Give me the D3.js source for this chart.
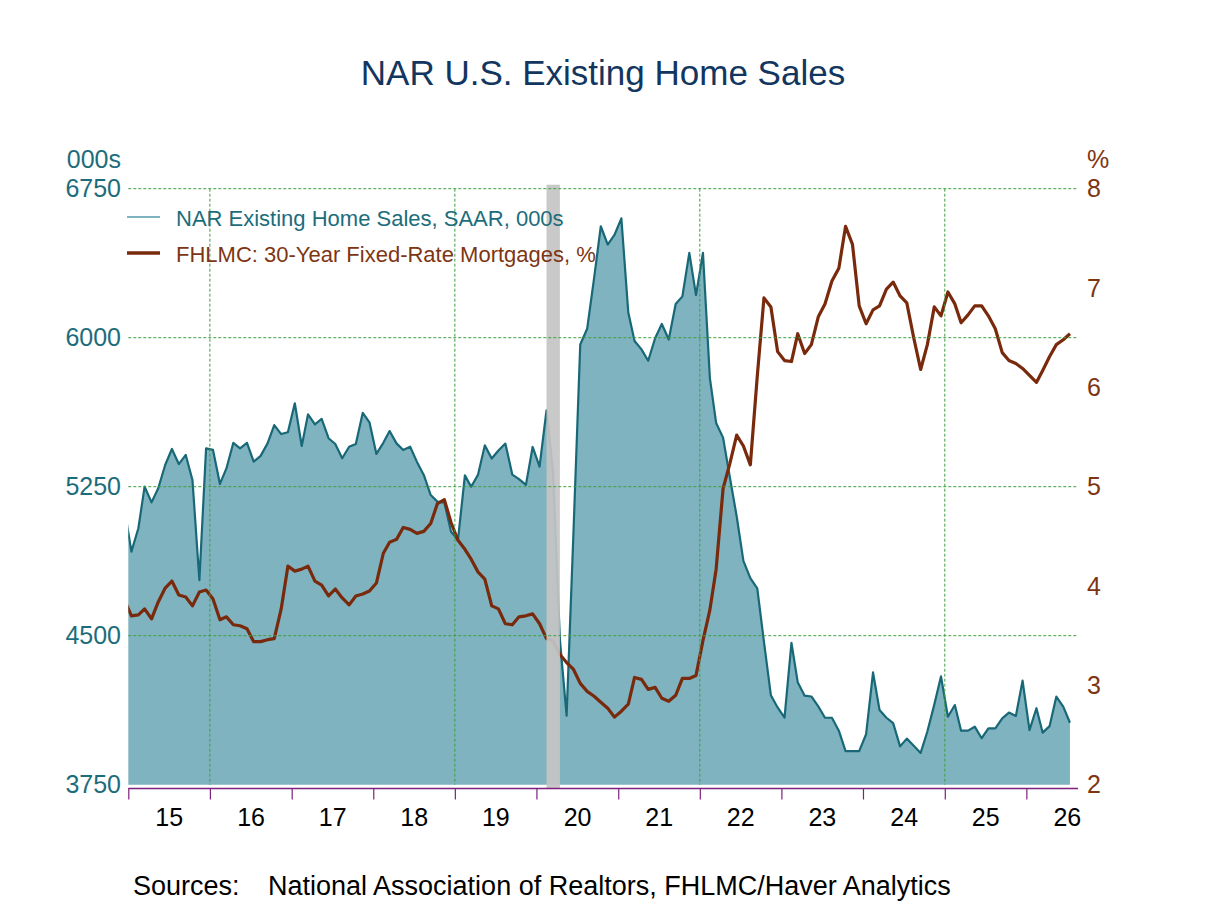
<!DOCTYPE html>
<html>
<head>
<meta charset="utf-8">
<script src="https://cdn.jsdelivr.net/npm/d3@7"></script>
<style>
  body { margin: 0; background: #fff; }
  svg { display: block; font-family: Arial, "Liberation Sans", sans-serif; }
</style>
</head>
<body>
<div id="chart"></div>
<script>
// NAR existing home sales vs 30-year mortgage rate, monthly, Dec 2014 .. Jul 2026

var firstMonth = '2014-12';

// NAR Existing Home Sales, SAAR, 000s
var sales = [
    5140,
    4923, 5041, 5250, 5171, 5242, 5359, 5440, 5364, 5410, 5284, 4780, 5443,
    5435, 5264, 5342, 5471, 5443, 5471, 5376, 5405, 5468, 5560, 5515, 5524,
    5670, 5455, 5614, 5564, 5591, 5494, 5465, 5393, 5451, 5465, 5622, 5574,
    5415, 5471, 5530, 5468, 5435, 5451, 5376, 5309, 5208, 5175, 5170, 5023,
    4982, 5307, 5250, 5311, 5458, 5392, 5432, 5467, 5311, 5288, 5259, 5450,
    5351, 5634, 5330, 4480, 4097, 5030, 5966, 6045, 6300, 6561, 6469, 6517,
    6601, 6127, 5983, 5941, 5884, 5997, 6069, 5991, 6170, 6208, 6427, 6214,
    6427, 5797, 5571, 5497, 5300, 5100, 4877, 4790, 4738, 4469, 4200, 4139,
    4088, 4464, 4266, 4198, 4194, 4144, 4087, 4087, 4022, 3919, 3919, 3919,
    4004, 4315, 4126, 4087, 4060, 3943, 3982, 3946, 3910, 4018, 4153, 4295,
    4092, 4151, 4022, 4022, 4042, 3984, 4034, 4034, 4084, 4113, 4096, 4274,
    4025, 4135, 4012, 4045, 4193, 4143, 4062
];

// FHLMC 30-year fixed-rate mortgages, %
var mortgage = [
    3.86,
    3.70, 3.71, 3.77, 3.67, 3.84, 3.98, 4.05, 3.91, 3.89, 3.80, 3.94, 3.96,
    3.87, 3.66, 3.69, 3.61, 3.60, 3.57, 3.44, 3.44, 3.46, 3.47, 3.77, 4.20,
    4.15, 4.17, 4.20, 4.05, 4.01, 3.90, 3.97, 3.88, 3.81, 3.90, 3.92, 3.95,
    4.03, 4.33, 4.44, 4.47, 4.59, 4.57, 4.53, 4.55, 4.63, 4.83, 4.87, 4.64,
    4.46, 4.37, 4.27, 4.14, 4.07, 3.80, 3.77, 3.62, 3.61, 3.69, 3.70, 3.72,
    3.62, 3.47, 3.45, 3.31, 3.23, 3.16, 3.02, 2.94, 2.89, 2.83, 2.77, 2.68,
    2.74, 2.81, 3.08, 3.06, 2.96, 2.98, 2.87, 2.84, 2.90, 3.07, 3.07, 3.10,
    3.45, 3.76, 4.17, 4.98, 5.23, 5.52, 5.41, 5.22, 6.11, 6.90, 6.81, 6.36,
    6.27, 6.26, 6.54, 6.34, 6.43, 6.71, 6.84, 7.07, 7.20, 7.62, 7.44, 6.82,
    6.64, 6.78, 6.82, 6.99, 7.06, 6.92, 6.85, 6.50, 6.18, 6.43, 6.81, 6.72,
    6.96, 6.84, 6.65, 6.73, 6.82, 6.82, 6.72, 6.59, 6.35, 6.27, 6.24, 6.19,
    6.12, 6.05, 6.17, 6.31, 6.43, 6.48, 6.54
];

var recessions = [['2020-02-15', '2020-04-15']];
var leftTicks = [3750, 4500, 5250, 6000, 6750];
var rightTicks = [2, 3, 4, 5, 6, 7, 8];
var gridSales = [4500, 5250, 6000, 6750];
var gridYears = [2016, 2019, 2022, 2025];
var tickYears = [2015, 2016, 2017, 2018, 2019, 2020, 2021, 2022, 2023, 2024, 2025, 2026];
var seriesNames = ['NAR Existing Home Sales, SAAR, 000s', 'FHLMC: 30-Year Fixed-Rate Mortgages, %'];

var width = 1208, height = 906;
var plotL = 128.3, plotR = 1078, plotT = 188.7, plotB = 784.7;

var colors = {
    fill: '#7fb3c0',
    sales: '#196878',
    salesText: '#1c6d7c',
    rate: '#7a2a0c',
    rateText: '#7e3512',
    title: '#123660',
    grid: '#3f9e3f',
    axis: '#7f1f7f',
    band: '#c4c4c4'
};

var parseMonth = d3.timeParse('%Y-%m');
var parseDay = d3.timeParse('%Y-%m-%d');
var start = parseMonth(firstMonth);
var data = sales.map(function (v, i) {
    var d = d3.timeMonth.offset(start, i);
    d.setDate(15);
    return { date: d, sales: v, rate: mortgage[i] };
});

var svg = d3.select('#chart').append('svg')
    .attr('width', width)
    .attr('height', height);

var x = d3.scaleTime()
    .domain([new Date(2015, 0, 1), new Date(2026, 7, 20)])
    .range([plotL, plotR]);
var yL = d3.scaleLinear().domain([3750, 6750]).range([plotB, plotT]);
var yR = d3.scaleLinear().domain([2, 8]).range([plotB, plotT]);

svg.append('defs').append('clipPath').attr('id', 'plot')
    .append('rect')
    .attr('x', plotL).attr('y', plotT - 10)
    .attr('width', plotR - plotL).attr('height', plotB - plotT + 20);

// Title
svg.append('text')
    .attr('x', 603).attr('y', 85)
    .attr('text-anchor', 'middle')
    .attr('fill', colors.title)
    .attr('font-size', '35px')
    .text('NAR U.S. Existing Home Sales');

var plot = svg.append('g').attr('clip-path', 'url(#plot)');

// Sales area + line
var area = d3.area()
    .x(function (d) { return x(d.date); })
    .y0(yL(3750))
    .y1(function (d) { return yL(d.sales); });
plot.append('path').datum(data)
    .attr('d', area)
    .attr('fill', colors.fill);
plot.append('path').datum(data)
    .attr('d', d3.line().x(function (d) { return x(d.date); }).y(function (d) { return yL(d.sales); }))
    .attr('fill', 'none')
    .attr('stroke', colors.sales)
    .attr('stroke-width', 2.2)
    .attr('stroke-linejoin', 'round');

// Recession shading
svg.selectAll('rect.band')
    .data(recessions)
    .join('rect')
    .attr('class', 'band')
    .attr('x', function (d) { return x(parseDay(d[0])); })
    .attr('width', function (d) { return x(parseDay(d[1])) - x(parseDay(d[0])); })
    .attr('y', plotT - 4)
    .attr('height', plotB - plotT + 8)
    .attr('fill', colors.band)
    .attr('opacity', 0.92);

// Grid
svg.selectAll('line.hgrid')
    .data(gridSales)
    .join('line')
    .attr('x1', plotL).attr('x2', plotR)
    .attr('y1', function (d) { return yL(d); })
    .attr('y2', function (d) { return yL(d); })
    .attr('stroke', colors.grid)
    .attr('stroke-width', 1)
    .attr('stroke-dasharray', '3,2');
svg.selectAll('line.vgrid')
    .data(gridYears)
    .join('line')
    .attr('x1', function (d) { return x(new Date(d, 0, 1)); })
    .attr('x2', function (d) { return x(new Date(d, 0, 1)); })
    .attr('y1', plotT).attr('y2', plotB)
    .attr('stroke', colors.grid)
    .attr('stroke-width', 1)
    .attr('stroke-dasharray', '3,2');

// Mortgage rate line
plot.append('path').datum(data)
    .attr('d', d3.line().x(function (d) { return x(d.date); }).y(function (d) { return yR(d.rate); }))
    .attr('fill', 'none')
    .attr('stroke', colors.rate)
    .attr('stroke-width', 3.2)
    .attr('stroke-linejoin', 'round');

// Left axis
var gl = svg.append('g')
    .attr('transform', 'translate(121,0)')
    .call(d3.axisLeft(yL).tickValues(leftTicks).tickSize(0).tickPadding(0).tickFormat(d3.format('d')));
gl.select('.domain').remove();
gl.selectAll('text').attr('fill', colors.salesText).attr('font-size', '25px').attr('font-family', null);
svg.append('text')
    .attr('x', 121).attr('y', 168)
    .attr('text-anchor', 'end')
    .attr('fill', colors.salesText)
    .attr('font-size', '25px')
    .text('000s');

// Right axis
var gr = svg.append('g')
    .attr('transform', 'translate(1087,0)')
    .call(d3.axisRight(yR).tickValues(rightTicks).tickSize(0).tickPadding(0).tickFormat(d3.format('d')));
gr.select('.domain').remove();
gr.selectAll('text').attr('fill', colors.rateText).attr('font-size', '25px').attr('font-family', null);
svg.append('text')
    .attr('x', 1087).attr('y', 168)
    .attr('fill', colors.rateText)
    .attr('font-size', '25px')
    .text('%');

// Bottom axis: ticks at each January, labels mid-year
var gx = svg.append('g')
    .attr('transform', 'translate(0,788.5)')
    .call(d3.axisBottom(x)
        .tickValues(tickYears.map(function (y) { return new Date(y, 0, 1); }))
        .tickSize(11)
        .tickFormat(''));
gx.select('.domain').attr('d', 'M' + plotL + ',0H' + plotR).attr('stroke', colors.axis).attr('stroke-width', 1.5);
gx.selectAll('.tick line').attr('stroke', colors.axis).attr('stroke-width', 1.2);

var gxl = svg.append('g')
    .attr('transform', 'translate(0,806)')
    .call(d3.axisBottom(x)
        .tickValues(tickYears.map(function (y) { return new Date(y, 6, 1); }))
        .tickSize(0)
        .tickPadding(0)
        .tickFormat(d3.timeFormat('%y')));
gxl.select('.domain').remove();
gxl.selectAll('text').attr('fill', '#000').attr('font-size', '25px').attr('font-family', null).attr('dy', '0.8em');

// Legend
var legend = svg.append('g');
legend.append('line')
    .attr('x1', 127).attr('x2', 160).attr('y1', 217).attr('y2', 217)
    .attr('stroke', colors.fill).attr('stroke-width', 2);
legend.append('text')
    .attr('x', 176).attr('y', 226)
    .attr('fill', colors.salesText).attr('font-size', '22px')
    .text(seriesNames[0]);
legend.append('line')
    .attr('x1', 127).attr('x2', 160).attr('y1', 253).attr('y2', 253)
    .attr('stroke', colors.rate).attr('stroke-width', 3.5);
legend.append('text')
    .attr('x', 176).attr('y', 262)
    .attr('fill', colors.rateText).attr('font-size', '22px')
    .text(seriesNames[1]);

// Sources
svg.append('text')
    .attr('x', 133).attr('y', 895)
    .attr('fill', '#000').attr('font-size', '27px')
    .text('Sources:');
svg.append('text')
    .attr('x', 268).attr('y', 895)
    .attr('fill', '#000').attr('font-size', '27px')
    .text('National Association of Realtors, FHLMC/Haver Analytics');
</script>
</body>
</html>
